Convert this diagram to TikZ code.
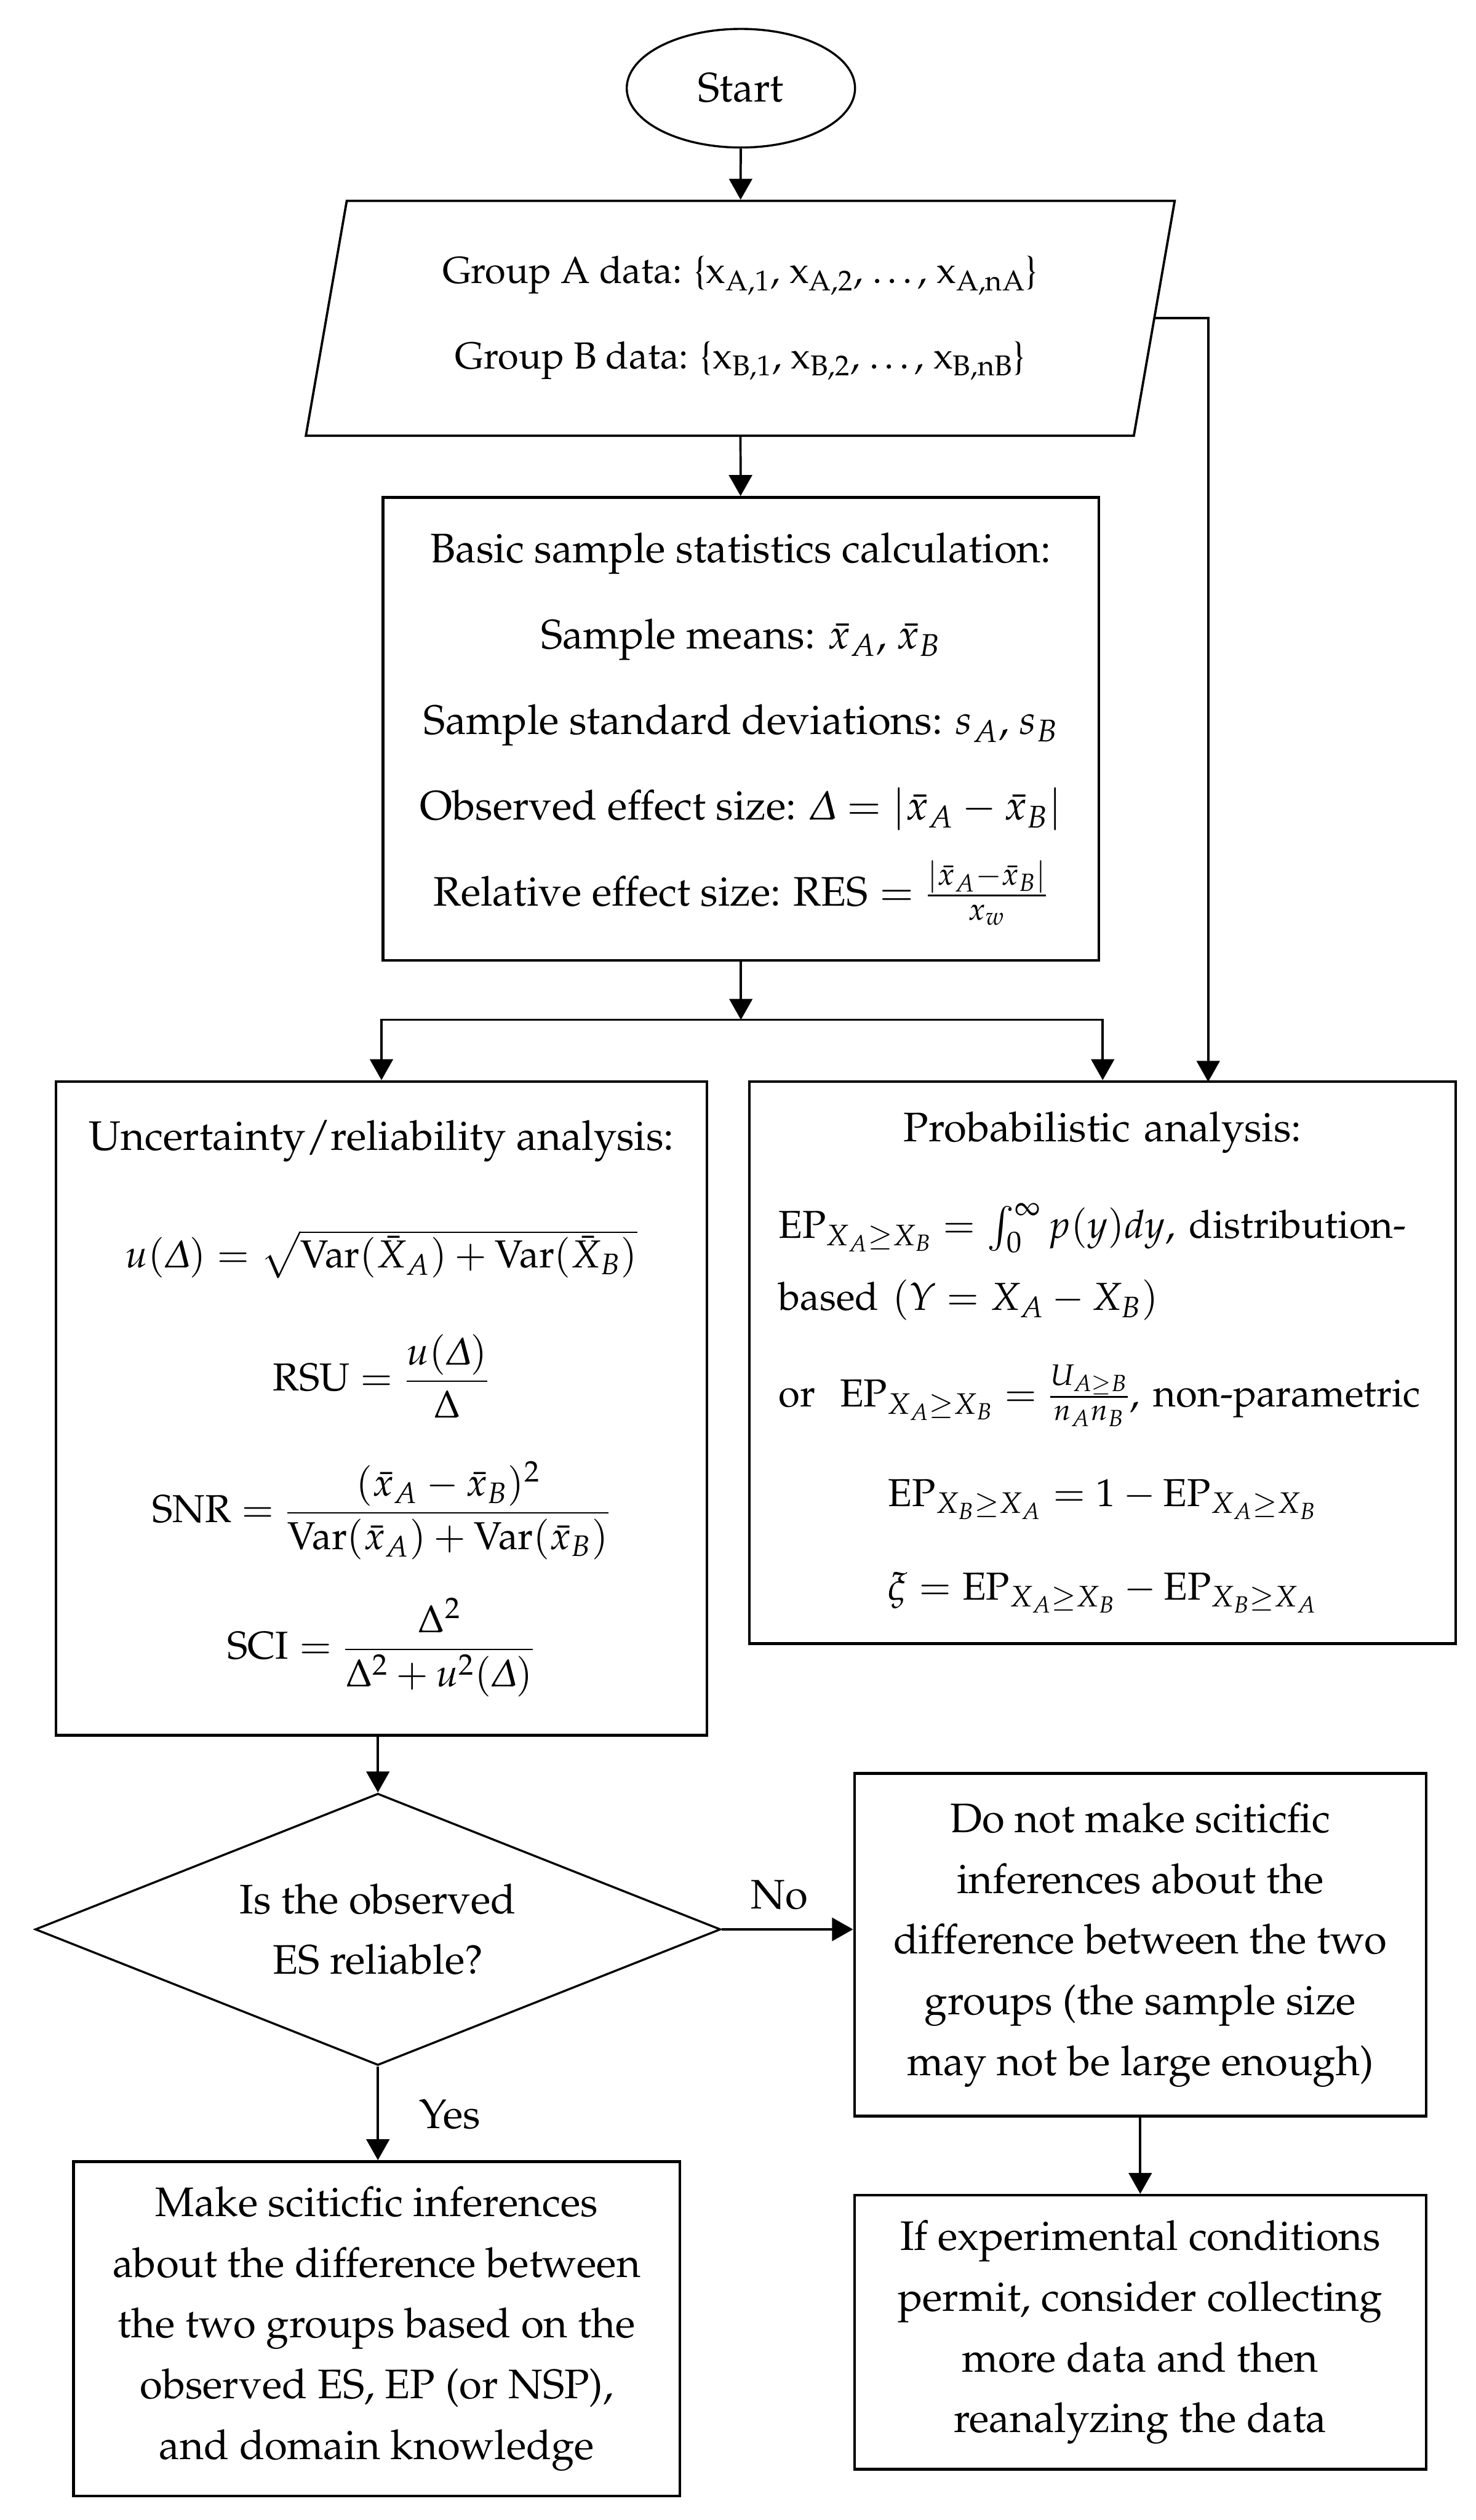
\documentclass[tikz,border=0pt]{standalone}
\usepackage[T1]{fontenc}
\usepackage[slantedGreek]{mathpazo}
\usepackage{amsmath}
\usetikzlibrary{arrows.meta,shapes.geometric}

\newcommand{\fmath}{\fontsize{18.6}{29}\selectfont}

\tikzset{
  box/.style={draw,line width=1.3pt,inner sep=0pt,align=center},
  arr/.style={line width=1.1pt,-{Triangle[width=11pt,length=10pt]}},
}

\begin{document}
\begin{tikzpicture}[x=1cm,y=1cm,font=\fontsize{19.7}{29}\selectfont]
  \useasboundingbox (0,0) rectangle (24.76,-42.28);

  % input side
  \node[draw,ellipse,line width=1pt,minimum width=3.83cm,minimum height=1.99cm] (start) at (12.43,-1.48) {Start};
  \node[draw,trapezium,trapezium left angle=76,trapezium right angle=104,trapezium stretches=true,
        line width=1.1pt,minimum width=14.63cm,minimum height=3.94cm,inner sep=0pt,align=center,
        font=\fontsize{18}{29}\selectfont] (data) at (12.42,-5.34)
    {Group A data: \{x\textsubscript{A,1}, x\textsubscript{A,2}, \dots, x\textsubscript{A,nA}\}\\[0.41cm]
     Group B data: \{x\textsubscript{B,1}, x\textsubscript{B,2}, \dots, x\textsubscript{B,nB}\}};

  \node[box,minimum width=12.01cm,minimum height=7.77cm] (basic) at (12.43,-12.23)
    {Basic sample statistics calculation:\\[0.42cm]
     Sample means: $\bar{x}_A$, $\bar{x}_B$\\[0.42cm]
     Sample standard deviations: $s_A$, $s_B$\\[0.42cm]
     Observed effect size: $\Delta=|\bar{x}_A-\bar{x}_B|$\\[0.42cm]
     Relative effect size: $\mathrm{RES}=\frac{|\bar{x}_A-\bar{x}_B|}{x_w}$};
  \coordinate (split) at (12.43,-17.11);

  % the two analyses
  \node[box,minimum width=10.92cm,minimum height=10.97cm] (unc) at (6.40,-23.63)
    {Uncertainty/reliability analysis:\\[0.95cm]
     {\fmath $u(\Delta)=\sqrt{\mathrm{Var}(\bar{X}_A)+\mathrm{Var}(\bar{X}_B)}$}\\[0.9cm]
     {\fmath $\mathrm{RSU}=\dfrac{u(\Delta)}{\upDelta}$}\\[0.7cm]
     {\fmath $\mathrm{SNR}=\dfrac{(\bar{x}_A-\bar{x}_B)^2}{\mathrm{Var}(\bar{x}_A)+\mathrm{Var}(\bar{x}_B)}$}\\[0.62cm]
     {\fmath $\mathrm{SCI}=\dfrac{\upDelta^2}{\upDelta^2+u^2(\Delta)}$}};
  \node[box,minimum width=11.85cm,minimum height=9.43cm,text width=10.87cm] (prob) at (18.50,-22.86)
    {Probabilistic analysis:\\[0.6cm]
     \makebox[\linewidth][l]{\fmath $\mathrm{EP}_{X_A\geq X_B}=\int_0^\infty p(y)dy$, distribution-}\\[0.19cm]
     \makebox[\linewidth][l]{\fmath based $(Y=X_A-X_B)$}\\[0.6cm]
     \makebox[\linewidth][l]{\fmath or\; $\mathrm{EP}_{X_A\geq X_B}=\frac{U_{A\geq B}}{n_An_B}$, non-parametric}\\[0.65cm]
     \makebox[\linewidth][c]{\fmath $\mathrm{EP}_{X_B\geq X_A}=1-\mathrm{EP}_{X_A\geq X_B}$}\\[0.55cm]
     \makebox[\linewidth][c]{\fmath $\xi=\mathrm{EP}_{X_A\geq X_B}-\mathrm{EP}_{X_B\geq X_A}$}};
  \coordinate (probin) at (20.27,-18.15);

  % decision
  \node[draw,diamond,aspect=2.52,line width=1pt,minimum width=11.5cm,minimum height=4.56cm,inner sep=0pt,align=center] (dec) at (6.34,-32.37)
    {Is the observed\\ES reliable?};
  \node[box,minimum width=10.17cm,minimum height=5.61cm] (yes) at (6.32,-39.07)
    {Make sciticfic inferences\\about the difference between\\the two groups based on the\\observed ES, EP (or NSP),\\and domain knowledge};
  \node[box,minimum width=9.59cm,minimum height=5.75cm] (no) at (19.13,-32.63)
    {Do not make sciticfic\\inferences about the\\difference between the two\\groups (the sample size\\may not be large enough)};
  \node[box,minimum width=9.59cm,minimum height=4.60cm] (more) at (19.13,-39.13)
    {If experimental conditions\\permit, consider collecting\\more data and then\\reanalyzing the data};
  \node (yeslbl) at (7.55,-35.48) {Yes};
  \node (nolbl) at (13.08,-31.79) {No};

  % connectors
  \draw[arr] (start) -- (data);
  \draw[arr] (data) -- (basic);
  \draw[arr] (data.east) -| (probin);
  \draw[arr] (basic) -- (split);
  \draw[arr] (split) -| (unc.north);
  \draw[arr] (split) -| (prob.north);
  \draw[arr] (dec.north |- unc.south) -- (dec.north);
  \draw[arr] (dec.south) -- (dec.south |- yes.north);
  \draw[arr] (dec.east) -- (no.west |- dec.east);
  \draw[arr] (no) -- (more);
\end{tikzpicture}
\end{document}
